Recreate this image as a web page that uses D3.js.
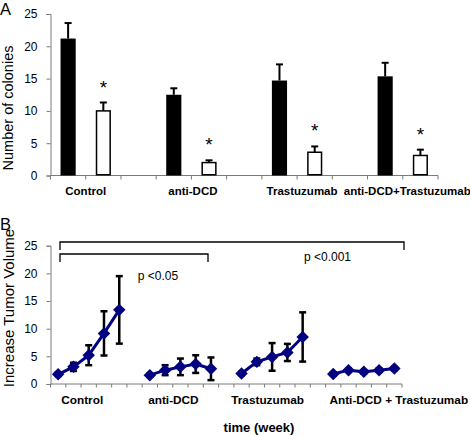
<!DOCTYPE html>
<html>
<head>
<meta charset="utf-8">
<script src="https://cdn.jsdelivr.net/npm/d3@7"></script>
<style>
  html, body { margin: 0; padding: 0; background: #fff; }
  svg { display: block; font-family: Arial, "Liberation Sans", sans-serif; }
</style>
</head>
<body>
<svg id="chart" width="470" height="436"></svg>
<script>
// ---------- Panel A data ----------
const catsA = ["Control", "anti-DCD", "Trastuzumab", "anti-DCD+Trastuzumab"];
const blackVals = [21.2, 12.5, 14.7, 15.35];
const blackErr = [2.4, 1.0, 2.5, 2.1];
const whiteVals = [10.0, 2.0, 3.6, 3.1];
const whiteErr = [1.3, 0.35, 0.9, 0.9];
const yTicksA = [0, 5, 10, 15, 20, 25];

// ---------- Panel B data ----------
const catsB = ["Control", "anti-DCD", "Trastuzumab", "Anti-DCD + Trastuzumab"];
const controlVals = [1.75, 3.1, 5.2, 9.15, 13.4];
const controlErr = [0.3, 0.75, 1.8, 4.0, 6.1];
const antiDCDVals = [1.6, 2.5, 3.1, 3.6, 2.75];
const antiDCDErr = [0.3, 0.9, 1.5, 1.6, 2.05];
const trastVals = [1.9, 4.0, 4.9, 5.7, 8.5];
const trastErr = [0.3, 0.6, 2.5, 1.55, 4.45];
const comboVals = [1.8, 2.5, 2.2, 2.5, 2.8];
const comboErr = [0.3, 0.3, 0.3, 0.3, 0.3];
const yTicksB = [0, 5, 10, 15, 20, 25];
const pLabels = ["p <0.05", "p <0.001"];

const svg = d3.select("#chart");
const axisColor = "#7a7a7a";
const navy = "#000080";

// ================= PANEL A =================
const nSlotsA = 11;
const xA = d3.scaleBand().domain(d3.range(nSlotsA)).range([50.5, 438])
  .paddingInner(0.57).paddingOuter(0.285);
const stepA = xA.step();
const yA = d3.scaleLinear().domain([0, 25]).range([175.5, 14]);

const gA = svg.append("g");

const yAxisA = gA.append("g").attr("transform", "translate(50.5,0)")
  .call(d3.axisLeft(yA).tickValues(yTicksA).tickSize(4).tickPadding(9));
yAxisA.select(".domain").attr("stroke", axisColor);
yAxisA.selectAll(".tick line").attr("stroke", axisColor);
yAxisA.selectAll(".tick text").attr("font-size", 12).attr("fill", "#000")
  .attr("font-family", "Arial, 'Liberation Sans', sans-serif");

gA.append("line").attr("x1", 50.5).attr("x2", 438).attr("y1", yA(0)).attr("y2", yA(0))
  .attr("stroke", axisColor);
gA.selectAll(".xtA").data(d3.range(nSlotsA + 1)).join("line")
  .attr("x1", i => 50.5 + i * stepA).attr("x2", i => 50.5 + i * stepA)
  .attr("y1", yA(0)).attr("y2", yA(0) + 4).attr("stroke", axisColor);

const barsA = catsA.map((c, g) => ({ g, bv: blackVals[g], be: blackErr[g], wv: whiteVals[g], we: whiteErr[g] }));
const bw = xA.bandwidth();

function errUp(sel, xc, v, e) {
  sel.append("line").attr("x1", xc).attr("x2", xc).attr("y1", yA(v)).attr("y2", yA(v + e))
    .attr("stroke", "#000").attr("stroke-width", 2);
  sel.append("line").attr("x1", xc - 3.5).attr("x2", xc + 3.5).attr("y1", yA(v + e)).attr("y2", yA(v + e))
    .attr("stroke", "#000").attr("stroke-width", 2);
}
barsA.forEach(d => {
  const xb = xA(3 * d.g), xw = xA(3 * d.g + 1);
  errUp(gA, xb + bw / 2, d.bv, d.be);
  errUp(gA, xw + bw / 2, d.wv, d.we);
  gA.append("rect").attr("x", xb).attr("y", yA(d.bv)).attr("width", bw)
    .attr("height", yA(0) - yA(d.bv)).attr("fill", "#000");
  gA.append("rect").attr("x", xw + 0.75).attr("y", yA(d.wv)).attr("width", bw - 1.5)
    .attr("height", yA(0) - yA(d.wv) - 0.75).attr("fill", "#fff").attr("stroke", "#000").attr("stroke-width", 1.5);
  gA.append("text").attr("x", xw + bw / 2).attr("y", yA(d.wv + d.we) - 9)
    .attr("text-anchor", "middle").attr("font-size", 19).text("*");
});

const labOffA = [0, 1.5, 5, 4.5];
gA.selectAll(".catA").data(catsA).join("text")
  .attr("x", (c, g) => 50.5 + stepA * (3 * g + 1) + labOffA[g])
  .attr("y", 194.5).attr("text-anchor", "middle")
  .attr("font-size", 11.5).attr("font-weight", "bold").text(c => c);

gA.append("text").attr("transform", "translate(13,108) rotate(-90)")
  .attr("text-anchor", "middle").attr("font-size", 14.5).text("Number of colonies");
gA.append("text").attr("x", 0).attr("y", 15).attr("font-size", 16.5).text("A");

// ================= PANEL B =================
const nSlotsB = 23;
const xB = d3.scaleBand().domain(d3.range(nSlotsB)).range([50.5, 402]);
const stepB = xB.step();
const cx = i => xB(i) + stepB / 2;
const yB = d3.scaleLinear().domain([0, 25]).range([384, 245.7]);

const gB = svg.append("g");

const yAxisB = gB.append("g").attr("transform", "translate(50.5,0)")
  .call(d3.axisLeft(yB).tickValues(yTicksB).tickSize(4).tickPadding(9));
yAxisB.select(".domain").attr("stroke", axisColor);
yAxisB.selectAll(".tick line").attr("stroke", axisColor);
yAxisB.selectAll(".tick text").attr("font-size", 12).attr("fill", "#000")
  .attr("font-family", "Arial, 'Liberation Sans', sans-serif");

gB.append("line").attr("x1", 50.5).attr("x2", 402).attr("y1", yB(0)).attr("y2", yB(0))
  .attr("stroke", axisColor);
gB.selectAll(".xtB").data(d3.range(nSlotsB + 1)).join("line")
  .attr("x1", i => 50.5 + i * stepB).attr("x2", i => 50.5 + i * stepB)
  .attr("y1", yB(0)).attr("y2", yB(0) + 3.5).attr("stroke", axisColor);

const seriesB = [
  { vals: controlVals, errs: controlErr },
  { vals: antiDCDVals, errs: antiDCDErr },
  { vals: trastVals, errs: trastErr },
  { vals: comboVals, errs: comboErr }
];

const lineGen = d3.line().x(d => cx(d.slot)).y(d => yB(d.v));
const diamond = d3.symbol().type(d3.symbolSquare).size(78);

seriesB.forEach((s, g) => {
  const pts = s.vals.map((v, i) => ({ slot: 6 * g + i, v, e: s.errs[i] }));
  pts.forEach(p => {
    const x = cx(p.slot);
    gB.append("line").attr("x1", x).attr("x2", x).attr("y1", yB(p.v - p.e)).attr("y2", yB(p.v + p.e))
      .attr("stroke", "#000").attr("stroke-width", 2.5);
    [p.v - p.e, p.v + p.e].forEach(ev => {
      gB.append("line").attr("x1", x - 3.5).attr("x2", x + 3.5).attr("y1", yB(ev)).attr("y2", yB(ev))
        .attr("stroke", "#000").attr("stroke-width", 2.5);
    });
  });
  gB.append("path").datum(pts).attr("d", lineGen).attr("fill", "none")
    .attr("stroke", navy).attr("stroke-width", 3);
  gB.selectAll(null).data(pts).join("path")
    .attr("d", diamond)
    .attr("transform", p => `translate(${cx(p.slot)},${yB(p.v)}) rotate(45)`)
    .attr("fill", navy);
});

const labOffB = [-6.5, -7, -4.5, 35];
gB.selectAll(".catB").data(catsB).join("text")
  .attr("x", (c, g) => cx(6 * g + 2) + labOffB[g])
  .attr("y", 403.5).attr("text-anchor", "middle")
  .attr("font-size", 11.8).attr("font-weight", "bold").text(c => c);

gB.append("text").attr("x", 259).attr("y", 432).attr("text-anchor", "middle")
  .attr("font-size", 13).attr("font-weight", "bold").text("time (week)");

gB.append("text").attr("transform", "translate(13.5,308) rotate(-90)")
  .attr("text-anchor", "middle").attr("font-size", 15).text("Increase Tumor Volume");
gB.append("text").attr("x", 0).attr("y", 229.5).attr("font-size", 16.5).text("B");

const brackets = [
  { x1: 60, x2: 404, y: 242, drop: 8 },
  { x1: 60, x2: 208, y: 254, drop: 8 }
];
brackets.forEach(b => {
  gB.append("path")
    .attr("d", `M${b.x1},${b.y + b.drop}V${b.y}H${b.x2}V${b.y + b.drop}`)
    .attr("fill", "none").attr("stroke", "#000").attr("stroke-width", 1.3);
});
gB.append("text").attr("x", 137.7).attr("y", 279.5).attr("font-size", 12).text(pLabels[0]);
gB.append("text").attr("x", 304).attr("y", 261).attr("font-size", 12).text(pLabels[1]);
</script>
</body>
</html>
